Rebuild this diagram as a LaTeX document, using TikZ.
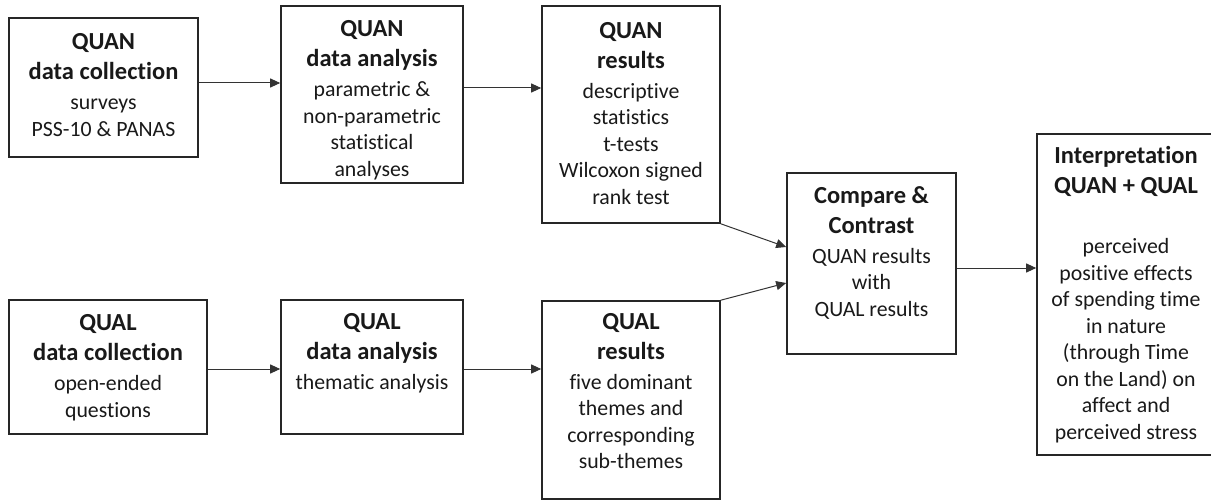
\documentclass[tikz,border=0pt]{standalone}
\usepackage{fontspec}
\setmainfont{Carlito}[Ligatures=NoCommon]
\usetikzlibrary{arrows.meta,calc}

\tikzset{
  box/.style={draw=black!85, line width=1.6pt, rectangle, inner sep=0pt},
  txt/.style={align=center, inner sep=0pt, text=black!90,
              font=\fontsize{21.8}{26.5}\selectfont},
  arr/.style={draw=black!80, line width=1pt, -{Triangle[length=10pt,width=9pt]}}
}
\newcommand{\hd}[1]{{\bfseries\fontsize{24.5}{30}\selectfont #1}}

\begin{document}
\begin{tikzpicture}[x=1pt,y=-1pt]
\useasboundingbox (0,0) rectangle (1211,500);

% boxes
\node[box, minimum width=189pt, minimum height=139pt] (b1) at (103.5,87.5) {};
\node[box, minimum width=182pt, minimum height=177pt] (b2) at (372,94.5) {};
\node[box, minimum width=178pt, minimum height=217pt] (b3) at (631,114.5) {};
\node[box, minimum width=198pt, minimum height=134pt] (b4) at (108,367) {};
\node[box, minimum width=182pt, minimum height=134pt] (b5) at (372,367) {};
\node[box, minimum width=178pt, minimum height=198pt] (b6) at (631,400) {};
\node[box, minimum width=169pt, minimum height=181pt] (b7) at (871.5,263.5) {};
% the last box runs past the right edge of the page
\node[box, minimum width=210pt, minimum height=321pt] (b8) at (1142,294.5) {};

% texts
\node[txt] (t1) at (103.5,85) {\hd{QUAN}\\[3.5pt]\hd{data collection}\\[3.5pt]surveys\\PSS-10 \& PANAS};
\node[txt] (t2) at (372,100) {\hd{QUAN}\\[3.5pt]\hd{data analysis}\\[3.5pt]parametric \&\\non-parametric\\statistical\\analyses};
\node[txt] (t3) at (631,113.5) {\hd{QUAN}\\[3.5pt]\hd{results}\\[3.5pt]descriptive\\statistics\\t-tests\\Wilcoxon signed\\rank test};
\node[txt] (t4) at (108,367.5) {\hd{QUAL}\\[3.5pt]\hd{data collection}\\[3.5pt]open-ended\\questions};
\node[txt] (t5) at (372,353) {\hd{QUAL}\\[3.5pt]\hd{data analysis}\\[3.5pt]thematic analysis};
\node[txt] (t6) at (631,391) {\hd{QUAL}\\[3.5pt]\hd{results}\\[3.5pt]five dominant\\themes and\\corresponding\\sub-themes};
\node[txt] (t7) at (871.5,252.5) {\hd{Compare \&}\\[3.5pt]\hd{Contrast}\\[3.5pt]QUAN results\\with\\QUAL results};
\node[txt] (t8) at (1126,294.5) {\hd{Interpretation}\\[3.5pt]\hd{QUAN + QUAL}\\[33.5pt]perceived\\positive effects\\of spending time\\in nature\\(through Time\\on the Land) on\\affect and\\perceived stress};

% connectors
\draw[arr] ([yshift=4.5pt]b1.east) -- ([yshift=4.5pt]b1.east -| b2.west);
\draw[arr] ([yshift=6.5pt]b2.east) -- ([yshift=6.5pt]b2.east -| b3.west);
\draw[arr] ([yshift=-2pt]b4.east) -- ([yshift=-2pt]b4.east -| b5.west);
\draw[arr] ([yshift=-2pt]b5.east) -- ([yshift=-2pt]b5.east -| b6.west);
\draw[arr] (b3.south east) -- ([yshift=16.5pt]b7.west);
\draw[arr] (b6.north east) -- ([yshift=-19.5pt]b7.west);
\draw[arr] ([yshift=-4.5pt]b7.east) -- ([yshift=-4.5pt]b7.east -| b8.west);
\end{tikzpicture}
\end{document}
